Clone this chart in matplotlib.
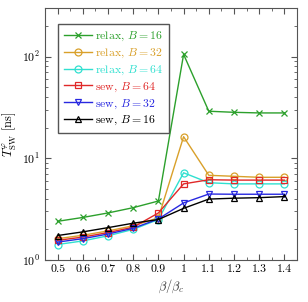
import matplotlib
matplotlib.use("Agg")
import matplotlib.pyplot as plt
from matplotlib.ticker import MultipleLocator, LogLocator

plt.rcParams['font.family'] = 'serif'
plt.rcParams['font.serif'] = ['cmr10']
plt.rcParams['mathtext.fontset'] = 'cm'
plt.rcParams['axes.formatter.use_mathtext'] = True

beta = [0.5, 0.6, 0.7, 0.8, 0.9, 1.0, 1.1, 1.2, 1.3, 1.4]

relax_16 = [2.4, 2.62, 2.9, 3.27, 3.8, 105, 29.0, 28.3, 27.9, 27.9]
relax_32 = [1.62, 1.75, 1.93, 2.17, 2.6, 16.3, 6.8, 6.65, 6.5, 6.5]
relax_64 = [1.42, 1.54, 1.73, 2.0, 2.5, 7.2, 5.75, 5.6, 5.6, 5.6]
sew_64 = [1.56, 1.68, 1.86, 2.1, 2.9, 5.6, 6.15, 6.1, 6.1, 6.1]
sew_32 = [1.5, 1.62, 1.8, 2.05, 2.53, 3.64, 4.45, 4.43, 4.43, 4.43]
sew_16 = [1.74, 1.89, 2.08, 2.3, 2.5, 3.22, 3.97, 4.05, 4.1, 4.2]

series = [
    (relax_16, r'relax, $B=16$', '#2ca02c', 'x'),
    (relax_32, r'relax, $B=32$', '#d9a02a', 'o'),
    (relax_64, r'relax, $B=64$', '#30e0d0', 'o'),
    (sew_64, r'sew, $B=64$', '#e02828', 's'),
    (sew_32, r'sew, $B=32$', '#2828e0', 'v'),
    (sew_16, r'sew, $B=16$', 'black', '^'),
]

fig = plt.figure(figsize=(3.08, 3.02), dpi=100)
ax = fig.add_axes([45/308, 42/302, 252/308, 252/302])

for vals, lab, col, mk in series:
    ax.plot(beta, vals, color=col, marker=mk, markersize=5, markerfacecolor='none',
            markeredgewidth=0.9, linewidth=1.0, label=lab)

ax.set_yscale('log')
ax.set_xlim(0.45, 1.45)
ax.set_ylim(1, 300)
ax.xaxis.set_minor_locator(MultipleLocator(0.05))
ax.yaxis.set_major_locator(LogLocator(base=10, numticks=5))
ax.yaxis.set_minor_locator(LogLocator(base=10, subs=range(2, 10), numticks=20))
ax.set_xticks(beta)
ax.set_xticklabels(['0.5', '0.6', '0.7', '0.8', '0.9', '1', '1.1', '1.2', '1.3', '1.4'])
ax.tick_params(which='both', direction='in', top=True, right=True, labelsize=8.5, color='#555555')
ax.tick_params(which='major', length=4)
ax.tick_params(which='minor', length=2)
for s in ax.spines.values():
    s.set_color('#555555')

ax.set_xlabel(r'$\beta/\beta_c$', fontsize=9, color='#333333', labelpad=2)
ax.set_ylabel(r'$T_{\rm SW}^{\varphi}$ [ns]', fontsize=9, labelpad=2)

leg = ax.legend(loc='upper left', bbox_to_anchor=(0.03, 0.96), fontsize=8.5, fancybox=False,
                framealpha=1, edgecolor='#555555', handlelength=2.3, handletextpad=0.3,
                labelspacing=0.3, borderpad=0.5)
for txt, (_, _, col, _) in zip(leg.get_texts(), series):
    txt.set_color(col)

fig.savefig('out.png', dpi=100)
